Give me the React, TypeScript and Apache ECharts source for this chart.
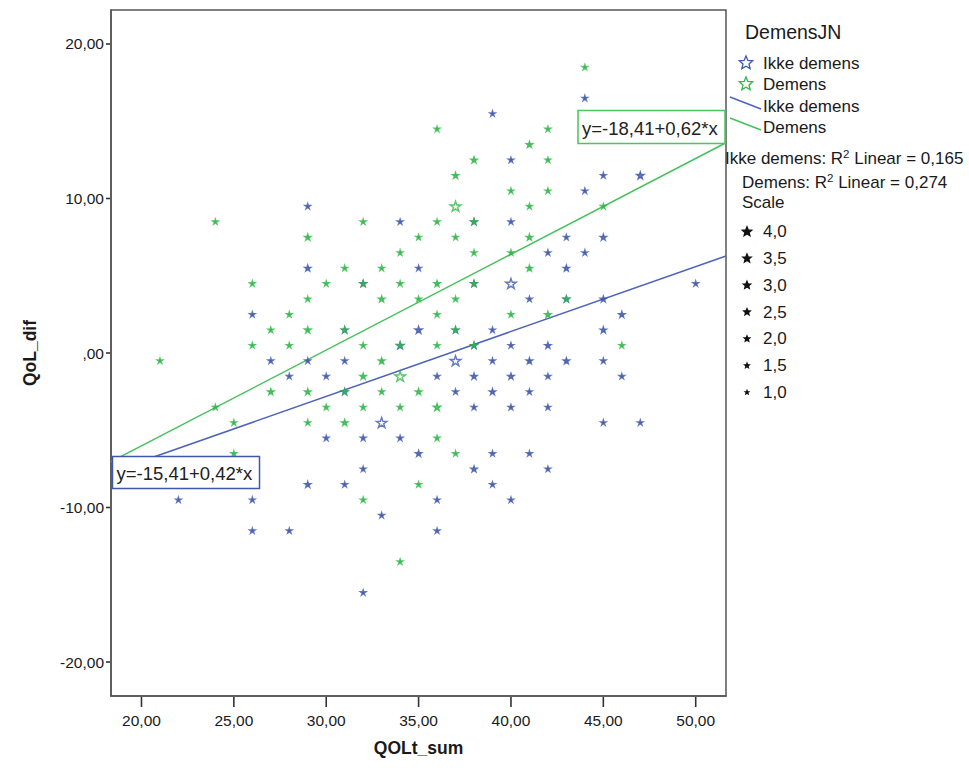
import React, { useEffect, useRef } from "react";
import * as echarts from "echarts";

// ---------- data ----------
const groupNames = ["Ikke demens", "Demens"];
const groupColors = ["#3e58ac", "#2eb848"];
const lineColors = ["#4f64b8", "#45c05a"];
const intercepts = [-15.41, -18.41];
const slopes = [0.42, 0.62];
const rSquared = ["0,165", "0,274"];

const xTicks = [20, 25, 30, 35, 40, 45, 50];
const xTickLabels = ["20,00", "25,00", "30,00", "35,00", "40,00", "45,00", "50,00"];
const yTicks = [-20, -10, 0, 10, 20];
const yTickLabels = ["-20,00", "-10,00", ",00", "10,00", "20,00"];

const scaleLevels = [4.0, 3.5, 3.0, 2.5, 2.0, 1.5, 1.0];
const scaleLabels = ["4,0", "3,5", "3,0", "2,5", "2,0", "1,5", "1,0"];

// [QOLt_sum, QoL_dif, scale]
const ikkeDemensPoints: [number, number, number][] = [
  [44, 16.5, 1], [39, 15.5, 1], [40, 12.5, 1], [45, 11.5, 1], [47, 11.5, 2.5], [44, 10.5, 1],
  [29, 9.5, 1], [34, 8.5, 1], [38, 8.5, 2], [40, 8.5, 1], [43, 7.5, 1], [45, 7.5, 2],
  [42, 6.5, 1], [44, 6.5, 1], [29, 5.5, 2], [35, 5.5, 1], [43, 5.5, 2],
  [32, 4.5, 2], [38, 4.5, 2], [40, 4.5, 4], [50, 4.5, 1],
  [41, 3.5, 1], [43, 3.5, 2], [45, 3.5, 2],
  [26, 2.5, 1], [46, 2.5, 2],
  [31, 1.5, 2], [35, 1.5, 2.5], [37, 1.5, 2], [39, 1.5, 1], [45, 1.5, 2],
  [34, 0.5, 2.5], [38, 0.5, 2], [40, 0.5, 1], [42, 0.5, 2],
  [27, -0.5, 1], [29, -0.5, 1], [31, -0.5, 1], [37, -0.5, 4], [39, -0.5, 1], [41, -0.5, 2], [43, -0.5, 2], [45, -0.5, 1],
  [28, -1.5, 1], [30, -1.5, 1], [36, -1.5, 1], [38, -1.5, 2], [40, -1.5, 2], [42, -1.5, 1], [46, -1.5, 1],
  [31, -2.5, 2], [37, -2.5, 1], [39, -2.5, 2], [41, -2.5, 1],
  [38, -3.5, 1], [40, -3.5, 1], [42, -3.5, 1],
  [33, -4.5, 4], [45, -4.5, 1], [47, -4.5, 1],
  [30, -5.5, 1], [32, -5.5, 1], [34, -5.5, 1],
  [35, -6.5, 2], [39, -6.5, 1], [41, -6.5, 1],
  [32, -7.5, 1], [38, -7.5, 2], [42, -7.5, 1],
  [29, -8.5, 2], [31, -8.5, 1], [39, -8.5, 1],
  [22, -9.5, 1], [26, -9.5, 1], [36, -9.5, 1], [40, -9.5, 1],
  [33, -10.5, 1],
  [26, -11.5, 1], [28, -11.5, 1], [36, -11.5, 1],
  [32, -15.5, 1],
];

const demensPoints: [number, number, number][] = [
  [44, 18.5, 1], [36, 14.5, 1], [42, 14.5, 1], [41, 13.5, 2], [38, 12.5, 2], [42, 12.5, 1], [37, 11.5, 2],
  [40, 10.5, 1], [42, 10.5, 1], [37, 9.5, 4], [41, 9.5, 1], [45, 9.5, 1],
  [24, 8.5, 1], [32, 8.5, 1], [36, 8.5, 1], [38, 8.5, 1],
  [29, 7.5, 1.5], [35, 7.5, 1], [37, 7.5, 1], [41, 7.5, 2],
  [34, 6.5, 1], [38, 6.5, 1], [40, 6.5, 1],
  [31, 5.5, 1], [33, 5.5, 1], [41, 5.5, 2],
  [26, 4.5, 1], [30, 4.5, 1], [32, 4.5, 1], [34, 4.5, 1], [36, 4.5, 2], [38, 4.5, 1],
  [29, 3.5, 1], [33, 3.5, 2], [35, 3.5, 1], [37, 3.5, 1], [43, 3.5, 1],
  [28, 2.5, 1], [36, 2.5, 1], [40, 2.5, 1], [42, 2.5, 2],
  [27, 1.5, 1], [29, 1.5, 1.5], [31, 1.5, 1], [37, 1.5, 1],
  [26, 0.5, 1], [28, 0.5, 1], [32, 0.5, 1], [34, 0.5, 1], [36, 0.5, 1], [38, 0.5, 1], [46, 0.5, 1],
  [21, -0.5, 1], [33, -0.5, 2],
  [32, -1.5, 2], [34, -1.5, 4],
  [27, -2.5, 2], [29, -2.5, 2], [31, -2.5, 1], [33, -2.5, 1], [35, -2.5, 2],
  [24, -3.5, 1], [30, -3.5, 1], [32, -3.5, 1], [34, -3.5, 1], [36, -3.5, 2.5],
  [25, -4.5, 1], [29, -4.5, 1], [31, -4.5, 2],
  [36, -5.5, 1],
  [25, -6.5, 1], [37, -6.5, 1],
  [35, -8.5, 1],
  [32, -9.5, 1],
  [34, -13.5, 1],
];

const X_MIN = 18.35;
const X_MAX = 51.64;
const Y_MIN = -22.2;
const Y_MAX = 22.2;

// ---------- helpers ----------
const FONT = '"Liberation Sans", Arial, sans-serif';
const STAR =
  "path://M50,2 L61.2,36.6 L97.6,36.6 L68.2,58 L79.4,92.6 L50,71.2 L20.6,92.6 L31.8,58 L2.4,36.6 L38.8,36.6 Z";
const markerSize = (s: number) => 2.6 + 2 * s;

function starPoints(cx: number, cy: number, R: number): number[][] {
  const pts: number[][] = [];
  const r = R * 0.45;
  for (let i = 0; i < 10; i++) {
    const a = -Math.PI / 2 + (i * Math.PI) / 5;
    const rad = i % 2 === 0 ? R : r;
    pts.push([cx + rad * Math.cos(a), cy + rad * Math.sin(a)]);
  }
  return pts;
}

const fmtNum = (v: number) => v.toFixed(2).replace(".", ",");
const equation = (i: number) => `y=${fmtNum(intercepts[i])}+${fmtNum(slopes[i])}*x`;

function buildPoints(points: [number, number, number][], color: string) {
  return points.map((p) => {
    const hollow = p[2] >= 3.5;
    const bw = p[2] <= 1.5 ? 1.7 : 1.3;
    return {
      value: p,
      itemStyle: hollow
        ? { color: "#ffffff", borderColor: color, borderWidth: 1.4 }
        : { color, borderColor: color, borderWidth: bw },
    };
  });
}

export default function App() {
  const ref = useRef<HTMLDivElement>(null);

  useEffect(() => {
    if (!ref.current) return;
    const chart = echarts.init(ref.current, undefined, { renderer: "svg" });

    const textColor = "#1a1a1a";
    const tickColor = "#333";
    const allPoints = [ikkeDemensPoints, demensPoints];

    const scatterSeries = allPoints.map((pts, i) => ({
      name: groupNames[i],
      type: "scatter",
      symbol: STAR,
      symbolKeepAspect: true,
      symbolSize: (v: number[]) => markerSize(v[2]),
      data: buildPoints(pts, groupColors[i]),
      z: 3 + i,
    }));

    const lineSeries = intercepts.map((a, i) => ({
      name: groupNames[i] + " fit",
      type: "line",
      showSymbol: false,
      symbol: "none",
      data: [
        [X_MIN, a + slopes[i] * X_MIN],
        [X_MAX, a + slopes[i] * X_MAX],
      ],
      lineStyle: { color: lineColors[i], width: 1.5 },
      z: 2,
    }));

    // x tick labels placed through the axis scale
    const xLabelSeries = {
      type: "custom",
      silent: true,
      clip: false,
      z: 20,
      data: xTicks.map((v, i) => [v, Y_MIN, i]),
      renderItem: (_p: any, api: any) => {
        const pt = api.coord([api.value(0), api.value(1)]);
        const idx = api.value(2);
        return {
          type: "text",
          x: pt[0],
          y: pt[1] + 24,
          style: {
            text: xTickLabels[idx],
            font: `15.5px ${FONT}`,
            fill: textColor,
            align: "center",
            verticalAlign: "middle",
          },
        };
      },
    };

    // legend graphics
    const legendX = 745;
    const graphics: any[] = [];
    graphics.push({
      type: "text",
      x: legendX,
      y: 32,
      style: { text: "DemensJN", font: `19.5px ${FONT}`, fill: textColor, verticalAlign: "middle" },
    });
    const starRows = [63, 84];
    groupNames.forEach((g, i) => {
      graphics.push({
        type: "polygon",
        shape: { points: starPoints(746, starRows[i], 7) },
        style: { fill: "#ffffff", stroke: groupColors[i], lineWidth: 1.3 },
      });
      graphics.push({
        type: "text",
        x: 763,
        y: starRows[i],
        style: { text: g, font: `17px ${FONT}`, fill: textColor, verticalAlign: "middle" },
      });
    });
    const lineRows = [106, 127];
    groupNames.forEach((g, i) => {
      graphics.push({
        type: "line",
        shape: { x1: 730, y1: lineRows[i] - 9, x2: 761, y2: lineRows[i] + 3 },
        style: { stroke: lineColors[i], lineWidth: 1.5 },
      });
      graphics.push({
        type: "text",
        x: 763,
        y: lineRows[i],
        style: { text: g, font: `17px ${FONT}`, fill: textColor, verticalAlign: "middle" },
      });
    });
    const r2Pos = [
      [725, 158],
      [742, 182],
    ];
    groupNames.forEach((g, i) => {
      graphics.push({
        type: "text",
        x: r2Pos[i][0],
        y: r2Pos[i][1],
        style: {
          text: `{t|${g}: R}{s|2}{t| Linear = ${rSquared[i]}}`,
          verticalAlign: "middle",
          rich: {
            t: { fontFamily: FONT, fontSize: 17, lineHeight: 20, fill: textColor, color: textColor },
            s: { fontFamily: FONT, fontSize: 11.5, lineHeight: 13, verticalAlign: "top", fill: textColor, color: textColor },
          },
        },
      });
    });
    graphics.push({
      type: "text",
      x: 742,
      y: 202,
      style: { text: "Scale", font: `17px ${FONT}`, fill: textColor, verticalAlign: "middle" },
    });
    scaleLevels.forEach((s, i) => {
      const cy = 231.7 + i * 26.77;
      graphics.push({
        type: "polygon",
        shape: { points: starPoints(747, cy, markerSize(s) / 2 - 0.5) },
        style: { fill: "#111", stroke: "#111", lineWidth: 1.4 },
      });
      graphics.push({
        type: "text",
        x: 763,
        y: cy,
        style: { text: scaleLabels[i], font: `17px ${FONT}`, fill: textColor, verticalAlign: "middle" },
      });
    });

    // equation boxes
    const boxes = [
      { x: 112.5, y: 456.5, w: 147, h: 32, color: groupColors[0], idx: 0 },
      { x: 578, y: 110.5, w: 147, h: 33, color: "#4cc45f", idx: 1 },
    ];
    boxes.forEach((b) => {
      graphics.push({
        type: "rect",
        z: 100,
        shape: { x: b.x, y: b.y, width: b.w, height: b.h },
        style: { fill: "#ffffff", stroke: b.color, lineWidth: 1.5 },
      });
      graphics.push({
        type: "text",
        z: 101,
        x: b.x + 4,
        y: b.y + b.h / 2 + 1,
        style: {
          text: equation(b.idx),
          font: `18.5px ${FONT}`,
          fill: "#222",
          verticalAlign: "middle",
        },
      });
    });

    const axisLineStyle = { color: "#555", width: 1.5 };

    const option: any = {
      animation: false,
      backgroundColor: "#ffffff",
      textStyle: { fontFamily: FONT },
      grid: {
        left: 111,
        right: 243,
        top: 10,
        bottom: 77,
        show: true,
        borderColor: "#555",
        borderWidth: 1.5,
        backgroundColor: "transparent",
      },
      xAxis: {
        type: "value",
        position: "bottom",
        min: X_MIN,
        max: X_MAX,
        name: "QOLt_sum",
        nameLocation: "middle",
        nameGap: 43,
        nameTextStyle: { fontFamily: FONT, fontSize: 17.5, fontWeight: "bold", color: textColor },
        axisLine: { show: true, onZero: false, lineStyle: axisLineStyle },
        splitLine: { show: false },
        axisTick: { show: false },
        axisLabel: { show: false },
      },
      yAxis: {
        type: "value",
        position: "left",
        min: Y_MIN,
        max: Y_MAX,
        name: "QoL_dif",
        nameLocation: "middle",
        nameGap: 72,
        nameTextStyle: { fontFamily: FONT, fontSize: 17.5, fontWeight: "bold", color: textColor },
        axisLine: { show: true, onZero: false, lineStyle: axisLineStyle },
        splitLine: { show: false },
        axisTick: { show: false },
        axisLabel: {
          margin: 7,
          customValues: yTicks,
          fontFamily: FONT,
          fontSize: 15.5,
          color: textColor,
          formatter: (v: number) => {
            const k = yTicks.indexOf(Math.round(v));
            return k >= 0 ? yTickLabels[k] : "";
          },
        },
      },
      series: [...lineSeries, ...scatterSeries, xLabelSeries],
    };

    chart.setOption(option);

    // axis ticks: pixel positions obtained from the chart's own scales
    const tickGraphics: any[] = [];
    xTicks.forEach((v) => {
      const p = chart.convertToPixel({ gridIndex: 0 }, [v, Y_MIN]) as number[];
      tickGraphics.push({
        type: "line",
        z: 1000,
        shape: { x1: p[0], y1: p[1] + 1, x2: p[0], y2: p[1] + 11 },
        style: { stroke: tickColor, lineWidth: 1.6 },
      });
    });
    yTicks.forEach((v) => {
      const p = chart.convertToPixel({ gridIndex: 0 }, [X_MIN, v]) as number[];
      tickGraphics.push({
        type: "line",
        z: 1000,
        shape: { x1: p[0] - 5, y1: p[1], x2: p[0] - 1, y2: p[1] },
        style: { stroke: tickColor, lineWidth: 1.6 },
      });
    });

    chart.setOption({ graphic: [...graphics, ...tickGraphics] });
    return () => chart.dispose();
  }, []);

  return (
    <div
      ref={ref}
      style={{ position: "absolute", left: 0, top: 0, width: 969, height: 773, background: "#fff" }}
    />
  );
}
